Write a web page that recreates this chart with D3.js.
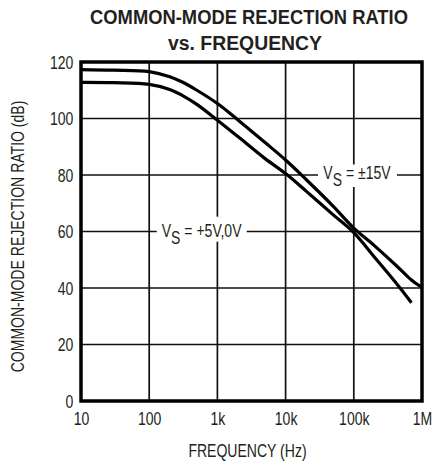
<!DOCTYPE html>
<html>
<head>
<meta charset="utf-8">
<script src="https://cdn.jsdelivr.net/npm/d3@7/dist/d3.min.js"></script>
<style>
  html, body { margin: 0; padding: 0; background: #fff; }
  svg { display: block; }
  text { font-family: "Liberation Sans", Arial, sans-serif; fill: #231f20; }
</style>
</head>
<body>
<svg id="chart" width="435" height="468"></svg>
<script>
// Frequency axis ticks (Hz) and their labels
const freqTicks = [10, 100, 1e3, 1e4, 1e5, 1e6];
const freqLabels = ["10", "100", "1k", "10k", "100k", "1M"];
// CMRR axis ticks (dB)
const dbTicks = [0, 20, 40, 60, 80, 100, 120];

// V_S = ±15V curve
const freqDual = [10, 30, 100, 200, 300, 500, 1e3, 2e3, 5e3, 1e4, 2e4, 5e4, 1e5, 2e5, 4e5, 7e5, 9e5, 1e6];
const cmrrDual = [117.3, 117.1, 116.6, 114.8, 113.0, 110.0, 105.3, 99.5, 91.5, 85.3, 78.4, 68.9, 61.2, 55.0, 48.4, 42.8, 40.9, 40.4];

// V_S = +5V,0V curve
const freqSingle = [10, 30, 100, 200, 300, 500, 1e3, 2e3, 5e3, 1e4, 2e4, 5e4, 1e5, 2e5, 4e5, 7e5];
const cmrrSingle = [112.8, 112.7, 112.1, 110.3, 108.3, 105.0, 99.4, 93.6, 85.8, 80.5, 74.3, 65.9, 59.6, 51.0, 42.3, 34.8];

const svg = d3.select("#chart");
const plotL = 81, plotR = 422, plotT = 62, plotB = 401;
const squeeze = 0.78; // condensed lettering

const x = d3.scaleLog().domain([10, 1e6]).range([plotL, plotR]);
const y = d3.scaleLinear().domain([0, 120]).range([plotB, plotT]);

// Title lines, narrowed horizontally to a set width
function titleLine(cx, cy, width, str) {
  const t = svg.append("text").attr("text-anchor", "middle")
    .style("font-size", "21px").style("font-weight", "bold").text(str);
  const k = width / t.node().getComputedTextLength();
  t.attr("transform", `translate(${cx},${cy}) scale(${k},1)`);
}
titleLine(249, 24, 318, "COMMON-MODE REJECTION RATIO");
titleLine(245, 49.5, 154, "vs. FREQUENCY");

// Grid lines
const grid = svg.append("g").attr("stroke", "#111").attr("stroke-width", 1.7);
grid.selectAll("line.v").data(freqTicks.slice(1, -1)).join("line")
  .attr("x1", d => x(d)).attr("x2", d => x(d)).attr("y1", plotT).attr("y2", plotB);
grid.selectAll("line.h").data(dbTicks.slice(1, -1)).join("line")
  .attr("x1", plotL).attr("x2", plotR).attr("y1", d => y(d)).attr("y2", d => y(d));

// Tick labels via d3 axes (lines removed)
const xAxis = d3.axisBottom(x).tickValues(freqTicks)
  .tickFormat((d, i) => freqLabels[i]).tickSize(0).tickPadding(0);
const gx = svg.append("g").attr("transform", `translate(0,${plotB})`).call(xAxis);
gx.select(".domain").remove();
gx.selectAll("text").attr("y", 24).attr("dy", null)
  .attr("transform", `scale(${squeeze},1)`)
  .style("font-size", "18px").attr("fill", "#231f20");

const yAxis = d3.axisLeft(y).tickValues(dbTicks).tickSize(0).tickPadding(0);
const gy = svg.append("g").attr("transform", `translate(${plotL},0)`).call(yAxis);
gy.select(".domain").remove();
gy.selectAll("text").attr("x", -7.7 / squeeze).attr("dy", "0.36em")
  .attr("transform", `scale(${squeeze},1)`)
  .style("font-size", "18px").attr("fill", "#231f20");
gx.attr("font-family", null); gy.attr("font-family", null);

// Axis titles
svg.append("text").attr("transform", `translate(247.5,457) scale(${squeeze},1)`)
  .attr("text-anchor", "middle").style("font-size", "18px").text("FREQUENCY (Hz)");
svg.append("text").attr("transform", `translate(24,236.5) rotate(-90) scale(${squeeze},1)`)
  .attr("text-anchor", "middle").style("font-size", "18px")
  .text("COMMON-MODE REJECTION RATIO (dB)");

// Curves
const line = d3.line().x(d => x(d[0])).y(d => y(d[1])).curve(d3.curveCatmullRom.alpha(0.5));
const curves = svg.append("g").attr("fill", "none").attr("stroke", "#000")
  .attr("stroke-width", 3.2).attr("stroke-linejoin", "round");
curves.append("path").attr("d", line(d3.zip(freqDual, cmrrDual)));
curves.append("path").attr("d", line(d3.zip(freqSingle, cmrrSingle)));

// Curve labels on white backgrounds
function curveLabel(tx, ty, box, rest) {
  const g = svg.append("g");
  g.append("rect").attr("x", box[0]).attr("y", box[1])
    .attr("width", box[2]).attr("height", box[3]).attr("fill", "#fff");
  const t = g.append("text").attr("transform", `translate(${tx},${ty}) scale(${squeeze},1)`)
    .style("font-size", "18px");
  t.append("tspan").text("V");
  t.append("tspan").attr("dy", 7).text("S");
  t.append("tspan").attr("dy", -7).text(rest);
}
curveLabel(323.3, 179, [318, 164.5, 79, 22.5], " = ±15V");
curveLabel(161.7, 236.7, [156.7, 216.7, 90, 25], " = +5V,0V");

// Plot frame
svg.append("rect").attr("x", plotL).attr("y", plotT)
  .attr("width", plotR - plotL).attr("height", plotB - plotT)
  .attr("fill", "none").attr("stroke", "#000").attr("stroke-width", 3.5);
</script>
</body>
</html>
